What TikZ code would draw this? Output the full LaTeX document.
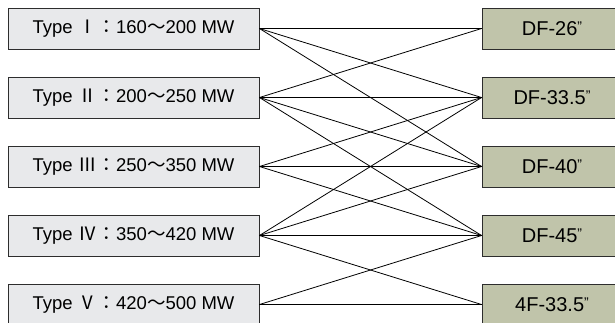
\documentclass[tikz,border=0pt]{standalone}
\usepackage{fontspec}
\setmainfont{Liberation Sans}
\newfontfamily\cjk{Noto Sans CJK JP}
\definecolor{lfill}{RGB}{232,233,235}
\definecolor{rfill}{RGB}{192,196,170}
\definecolor{edge}{RGB}{45,45,45}
\newcommand{\inchmark}{\raisebox{0.35ex}{\fontsize{14pt}{14pt}\selectfont ”}}
\begin{document}
\begin{tikzpicture}[x=1pt,y=-1pt,
  lbox/.style={draw=edge,line width=0.9pt,fill=lfill,minimum width=251pt,minimum height=41pt,inner sep=0pt,font=\fontsize{18.5pt}{21pt}\selectfont},
  rbox/.style={draw=edge,line width=0.9pt,fill=rfill,minimum width=140pt,minimum height=41pt,inner sep=0pt,font=\fontsize{20pt}{22pt}\selectfont},
  link/.style={line width=0.8pt,black}]
\useasboundingbox (0,0) rectangle (615,322);
\foreach \i/\t/\a/\b in {1/Ⅰ/160/200,2/Ⅱ/200/250,3/Ⅲ/250/350,4/Ⅳ/350/420,5/Ⅴ/420/500}{
  \node[lbox] (L\i) at (133.5,{28.5+69*(\i-1)}) {Type\hspace{0.3em}{\cjk\t\hspace{0.05em}：}\a{\cjk～}\b\ MW};
}
\node[rbox] (R1) at (552,28.5) {DF-26\inchmark};
\node[rbox] (R2) at (552,97.5) {DF-33.5\inchmark};
\node[rbox] (R3) at (552,166.5) {DF-40\inchmark};
\node[rbox] (R4) at (552,235.5) {DF-45\inchmark};
\node[rbox] (R5) at (552,304.5) {4F-33.5\inchmark};
\foreach \l/\r in {1/1,1/2,1/3,2/1,2/2,2/3,2/4,3/2,3/3,3/4,4/2,4/3,4/4,4/5,5/4,5/5}{
  \draw[link] (L\l.east) -- (R\r.west);
}
\end{tikzpicture}
\end{document}
